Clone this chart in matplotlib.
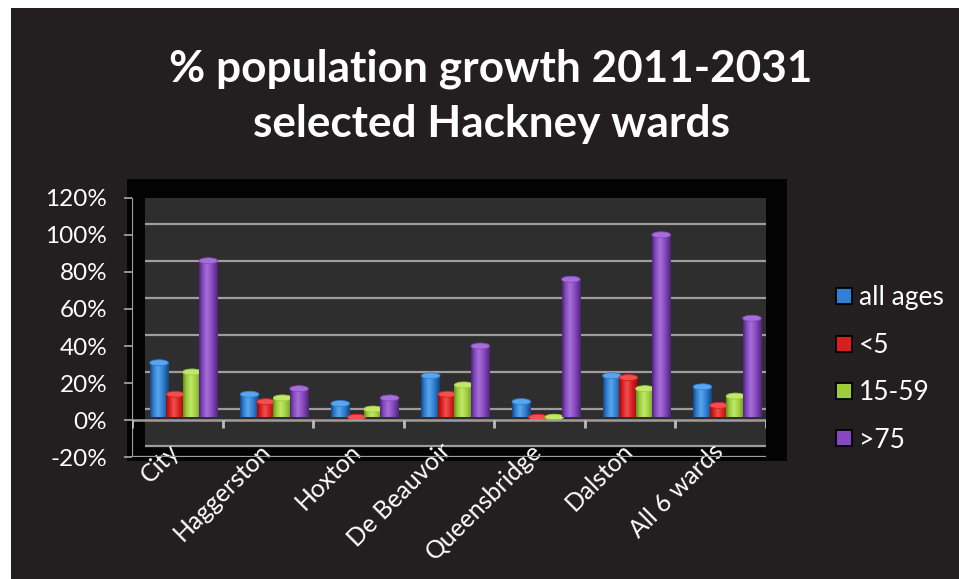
import numpy as np
import matplotlib
matplotlib.use("Agg")
import matplotlib.pyplot as plt
import matplotlib.transforms as mtransforms
from matplotlib.patches import Rectangle, Ellipse
from matplotlib.lines import Line2D
from matplotlib.colors import LinearSegmentedColormap

# ---------------- data ----------------
categories = ["City", "Haggerston", "Hoxton", "De Beauvoir", "Queensbridge", "Dalston", "All 6 wards"]
series_names = ["all ages", "<5", "15-59", ">75"]
all_ages = [31, 14, 9, 24, 10, 24, 18]
under_5 = [14, 10, 1, 14, -2, 23, 8]
age_15_59 = [26, 12, 6, 19, 1, 17, 13]
over_75 = [86, 17, 12, 40, 76, 100, 55]
y_ticks = [-20, 0, 20, 40, 60, 80, 100, 120]
y_ticklabels = ["-20%", "0%", "20%", "40%", "60%", "80%", "100%", "120%"]
title_line1 = "% population growth 2011-2031"
title_line2 = "selected Hackney wards"

# colours: (dark edge, mid, highlight)
series_cols = [
    ("#17457e", "#2f7fd2", "#5aa6ee"),
    ("#8e0f0f", "#d81f1f", "#f05050"),
    ("#66901c", "#9ccc3c", "#c2e86a"),
    ("#4e2479", "#8548be", "#a66fd8"),
]
legend_cols = ["#2f7fd2", "#d81f1f", "#9ccc3c", "#8548be"]

FONT = "Lato"
W, H, DPI = 959, 579, 100
fig = plt.figure(figsize=(W / DPI, H / DPI), dpi=DPI, facecolor="white")

def px_rect(x0, y0, x1, y1, color, z):
    r = Rectangle((x0 / W, 1 - y1 / H), (x1 - x0) / W, (y1 - y0) / H,
                  transform=fig.transFigure, facecolor=color, edgecolor="none", zorder=z)
    fig.add_artist(r)

# dark panel and black 3D frame region
px_rect(11, 8, W, H, "#231f20", -3)
px_rect(126.7, 179, 786.7, 460.5, "#030303", -2)

# axes = front plane of the 3D chart
ax_l, ax_r, ax_t, ax_b = 132, 766, 197.7, 457.3
ax = fig.add_axes([ax_l / W, 1 - ax_b / H, (ax_r - ax_l) / W, (ax_b - ax_t) / H])
ax.patch.set_visible(False)
for s in ax.spines.values():
    s.set_visible(False)

xmin, xmax, ymin, ymax = -0.5, len(categories) - 0.5, -20, 120
back = mtransforms.offset_copy(ax.transData, fig=fig, x=13, y=11, units="dots")
mid = mtransforms.offset_copy(ax.transData, fig=fig, x=6.5, y=3, units="dots")
px_per_unit = (ax_b - ax_t) / (ymax - ymin)

grid_col = "#a29b9b"
# back wall
ax.add_patch(Rectangle((xmin, ymin), xmax - xmin, ymax - ymin, transform=back,
                       facecolor="#2e2e2e", edgecolor="none", zorder=0))
# gridlines on back wall + diagonals on left wall
for yv in y_ticks:
    ax.plot([xmin, xmax], [yv, yv], transform=back, color=grid_col, lw=1.6, zorder=1,
            solid_capstyle="butt")
    xa = ax.transData.transform((xmin, yv))
    xb = back.transform((xmin, yv))
    ax.plot([xa[0], xb[0]], [xa[1], xb[1]], transform=None, color=grid_col, lw=1.4, zorder=1)

# bars
n = len(series_names)
width = 0.205
step = 0.182
grad = np.linspace(0, 1, 64).reshape(1, -1)
cap_h = 6 / px_per_unit
all_series = [all_ages, under_5, age_15_59, over_75]
for si, vals in enumerate(all_series):
    dark, midc, light = series_cols[si]
    cmap = LinearSegmentedColormap.from_list(
        f"c{si}", [(0, dark), (0.18, midc), (0.42, light), (0.7, midc), (1, dark)])
    off = (si - (n - 1) / 2) * step
    for ci, v in enumerate(vals):
        z = 3 + si * 0.01 + ci * 0.001
        x0 = ci + off - width / 2
        if v > 0:
            top = max(v - cap_h / 2, 0)
            ax.imshow(grad, cmap=cmap, extent=(x0, x0 + width, 0, top),
                      aspect="auto", transform=mid, zorder=z, interpolation="bilinear")
            ax.add_patch(Ellipse((ci + off, top), width, cap_h, transform=mid,
                                 facecolor=light, edgecolor=midc, lw=0.6, zorder=z))
        else:
            ax.imshow(grad, cmap=cmap, extent=(x0, x0 + width, v, 0),
                      aspect="auto", transform=mid, zorder=z, interpolation="bilinear")
            ax.add_patch(Ellipse((ci + off, 0), width, cap_h, transform=mid,
                                 facecolor=light, edgecolor=midc, lw=0.6, zorder=z))

# front lines: zero line, left axis, bottom line
ax.plot([xmin, xmax], [0, 0], color=grid_col, lw=1.8, zorder=4, solid_capstyle="butt")
ax.plot([xmin, xmin], [ymin, ymax], color=grid_col, lw=1.6, zorder=4)
ax.plot([xmin, xmax], [ymin, ymin], color=grid_col, lw=1.6, zorder=4)
bounds = np.arange(xmin, xmax + 0.01, 1.0)
ax.vlines(bounds, 0, -4.2, color="#bdbdbd", lw=2.0, zorder=4)

ax.set_xlim(xmin, xmax)
ax.set_ylim(ymin, ymax)

# y ticks
ax.set_yticks(y_ticks)
ax.set_yticklabels(y_ticklabels)
ax.tick_params(axis="y", direction="out", length=5.8, width=1.3, color=grid_col,
               pad=12, labelcolor="white", labelsize=17.5)
for lab in ax.get_yticklabels():
    lab.set_fontfamily(FONT)

# x tick labels
ax.set_xticks(range(len(categories)))
ax.set_xticklabels(categories, rotation=45, ha="right", va="top")
ax.tick_params(axis="x", length=0, pad=-13, labelcolor="white", labelsize=17.8)
shift = mtransforms.ScaledTranslation(7 / DPI, 0, fig.dpi_scale_trans)
for lab in ax.get_xticklabels():
    lab.set_fontfamily(FONT)
    lab.set_transform(lab.get_transform() + shift)
    lab.set_zorder(6)

# title
fig.text(491 / W, 1 - 81 / H, title_line1, ha="center", va="baseline", color="white",
         fontsize=31.8, fontweight="bold", family=FONT)
fig.text(491 / W, 1 - 137 / H, title_line2, ha="center", va="baseline", color="white",
         fontsize=31.8, fontweight="bold", family=FONT)

# legend
handles = [Line2D([], [], linestyle="none", marker="s", markersize=11,
                  markerfacecolor=c, markeredgecolor="black", markeredgewidth=1.3)
           for c in legend_cols]
leg = fig.legend(handles, series_names, loc="center left",
                 bbox_to_anchor=(834 / W, 1 - 369 / H), frameon=False,
                 handlelength=0.75, handletextpad=0.2, borderpad=0, borderaxespad=0,
                 labelspacing=0.85, prop={"family": FONT, "size": 19})
for t in leg.get_texts():
    t.set_color("white")

fig.savefig("out.png", dpi=DPI, facecolor=fig.get_facecolor())
